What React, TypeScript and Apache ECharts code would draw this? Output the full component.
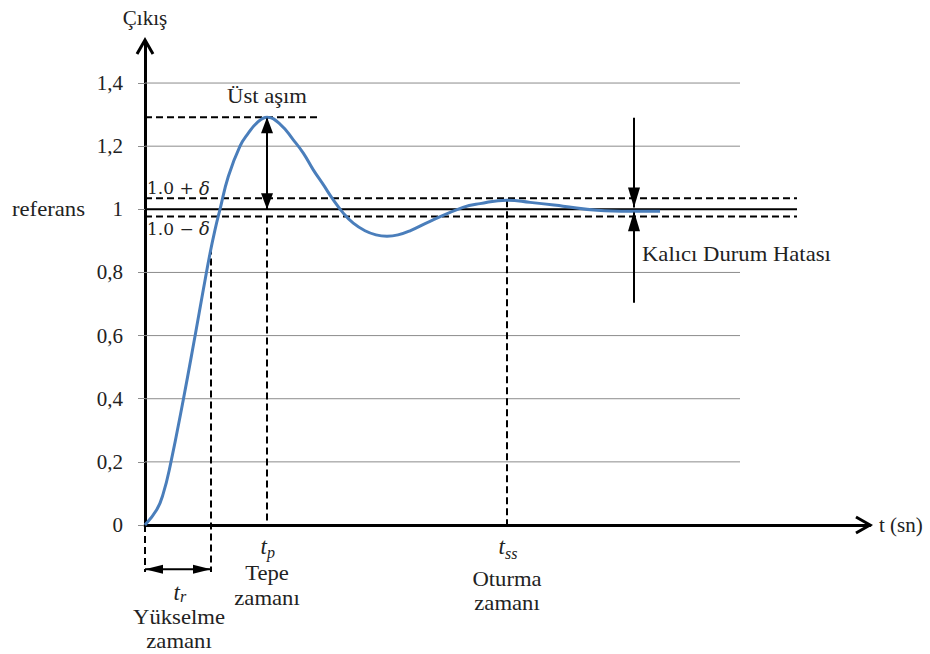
import React, { useEffect, useRef } from 'react';
import * as echarts from 'echarts';

// Step response samples (time in arbitrary units, output value)
const timeValues = [0, 0.234, 0.366, 0.5, 0.766, 1.0, 1.166, 1.3, 1.4, 1.5, 1.666, 1.9, 2.066, 2.234, 2.44, 2.7, 2.966, 3.166, 3.366, 3.566, 3.766, 3.966, 4.166, 4.4, 4.62, 4.84, 5.06, 5.3, 5.7, 6.36, 6.7, 7.24, 7.7, 8.36, 9.04, 9.7, 10.3];
const outputValues = [0, 0.048, 0.1, 0.185, 0.397, 0.598, 0.745, 0.86, 0.935, 1.0, 1.104, 1.2, 1.241, 1.273, 1.292, 1.27, 1.22, 1.178, 1.125, 1.078, 1.03, 0.988, 0.956, 0.932, 0.919, 0.915, 0.919, 0.932, 0.962, 1.006, 1.018, 1.029, 1.022, 1.01, 0.997, 0.994, 0.994];

const yTickValues = [0, 0.2, 0.4, 0.6, 0.8, 1, 1.2, 1.4];
const gridLineValues = [0.2, 0.4, 0.6, 0.8, 1, 1.2, 1.4];

const xMax = 14.5;
const yMax = 1.53;
const gridLineEnd = 11.9;
const referenceEnd = 13.04;

const referenceValue = 1.0;
const bandUpper = 1.035;
const bandLower = 0.977;

const peakTime = 2.44;
const peakValue = 1.292;
const overshootLineEnd = 3.46;

const riseTime = 1.32;
const riseMarkTop = 0.879;
const belowAxisValue = -0.149;
const riseArrowValue = -0.14;

const settlingTime = 7.24;
const settlingMarkTop = 1.029;

const errorArrowTime = 9.78;
const errorArrowTop = 1.29;
const errorArrowBottom = 0.704;
const errorArrowTipTop = 1.006;
const errorArrowTipBottom = 0.994;

const FONT = 'Liberation Serif';
const TEXT_COLOR = '#222';

export default function App() {
  const ref = useRef<HTMLDivElement>(null);

  useEffect(() => {
    const chart = echarts.init(ref.current!, null, { renderer: 'svg' });
    const fmt = (v: number) => String(+v.toFixed(1)).replace('.', ',');
    chart.setOption({
      animation: false,
      backgroundColor: '#fff',
      textStyle: { fontFamily: FONT },
      grid: { left: 145, right: 60, top: 42, bottom: 129, containLabel: false },
      xAxis: {
        type: 'value',
        min: 0,
        max: xMax,
        name: 't (sn)',
        nameLocation: 'end',
        nameGap: 9,
        nameTextStyle: { fontSize: 21, color: TEXT_COLOR, fontFamily: FONT },
        axisLine: { show: true, lineStyle: { color: '#000', width: 3 } },
        axisTick: { show: false },
        axisLabel: { show: false },
        splitLine: { show: false },
      },
      yAxis: {
        type: 'value',
        min: 0,
        max: yMax,
        name: 'Çıkış',
        nameLocation: 'end',
        nameGap: 14,
        nameTextStyle: { fontSize: 21, color: TEXT_COLOR, fontFamily: FONT, align: 'center' },
        axisLine: { show: true, onZero: false, lineStyle: { color: '#000', width: 3 } },
        axisTick: { show: true, length: 7, customValues: yTickValues, lineStyle: { color: '#8c8c8c', width: 1 } },
        axisLabel: {
          show: true,
          customValues: yTickValues,
          margin: 22,
          fontSize: 21,
          color: TEXT_COLOR,
          fontFamily: FONT,
          formatter: (v: number) => fmt(v),
        },
        splitLine: { show: false },
      },
      series: [
        {
          type: 'line',
          data: timeValues.map((t, i) => [t, outputValues[i]]),
          showSymbol: false,
          smooth: 0.45,
          z: 5,
          silent: true,
          lineStyle: { color: '#4a7ebb', width: 3 },
        },
      ],
    });

    const p = (x: number, y: number) => chart.convertToPixel({ gridIndex: 0 }, [x, y]) as number[];
    const g: any[] = [];

    const line = (a: number[], b: number[], opts: any = {}) => {
      g.push({
        type: 'line',
        silent: true,
        z: opts.z ?? 3,
        shape: { x1: a[0], y1: a[1], x2: b[0], y2: b[1] },
        style: { stroke: opts.color ?? '#000', lineWidth: opts.width ?? 2, lineDash: opts.dash ? [7, 4] : null },
      });
    };
    const head = (tip: number[], dir: number[], len: number, w: number) => {
      const bx = tip[0] - dir[0] * len;
      const by = tip[1] - dir[1] * len;
      const nx = -dir[1];
      const ny = dir[0];
      g.push({
        type: 'polygon',
        silent: true,
        z: 10,
        shape: { points: [[tip[0], tip[1]], [bx + (nx * w) / 2, by + (ny * w) / 2], [bx - (nx * w) / 2, by - (ny * w) / 2]] },
        style: { fill: '#000' },
      });
    };
    const text = (s: string, x: number, y: number, opts: any = {}) => {
      g.push({
        type: 'text',
        silent: true,
        z: 12,
        x,
        y,
        scaleX: opts.scaleX ?? 1.08,
        style: {
          text: s,
          fill: opts.color ?? TEXT_COLOR,
          fontSize: opts.size ?? 21,
          fontFamily: opts.family ?? FONT,
          fontStyle: opts.italic ? 'italic' : 'normal',
          align: opts.align ?? 'center',
          textAlign: opts.align ?? 'center',
          verticalAlign: 'middle',
          textVerticalAlign: 'middle',
          rich: opts.rich,
        },
      });
    };

    // gridlines
    gridLineValues.forEach((v) => line(p(0, v), p(gridLineEnd, v), { color: '#8c8c8c', width: 1, z: 1 }));

    // reference and tolerance band
    line(p(0, referenceValue), p(referenceEnd, referenceValue), { width: 2 });
    line(p(0, bandUpper), p(referenceEnd, bandUpper), { width: 2, dash: true });
    line(p(0, bandLower), p(referenceEnd, bandLower), { width: 2, dash: true });

    // overshoot
    line(p(0, peakValue), p(overshootLineEnd, peakValue), { width: 2, dash: true });
    line(p(peakTime, peakValue), p(peakTime, referenceValue), { width: 2 });
    head(p(peakTime, peakValue), [0, -1], 16, 12);
    head(p(peakTime, referenceValue), [0, 1], 16, 12);

    // verticals
    line(p(peakTime, bandLower), p(peakTime, 0), { width: 2, dash: true });
    line(p(settlingTime, settlingMarkTop), p(settlingTime, 0), { width: 2, dash: true });
    line(p(riseTime, riseMarkTop), p(riseTime, belowAxisValue), { width: 2, dash: true });
    line(p(0, 0), p(0, belowAxisValue), { width: 2, dash: true });

    // rise time arrow
    line(p(0, riseArrowValue), p(riseTime, riseArrowValue), { width: 2 });
    head(p(0, riseArrowValue), [-1, 0], 18, 9);
    head(p(riseTime, riseArrowValue), [1, 0], 18, 9);

    // steady-state error arrows
    line(p(errorArrowTime, errorArrowTop), p(errorArrowTime, errorArrowTipTop), { width: 2 });
    head(p(errorArrowTime, errorArrowTipTop), [0, 1], 20, 12);
    line(p(errorArrowTime, errorArrowBottom), p(errorArrowTime, errorArrowTipBottom), { width: 2 });
    head(p(errorArrowTime, errorArrowTipBottom), [0, -1], 20, 12);

    // axis chevrons
    const yTop = p(0, yMax);
    g.push({
      type: 'polyline', silent: true, z: 10,
      shape: { points: [[yTop[0] - 8, yTop[1] + 12], [yTop[0], yTop[1] - 2], [yTop[0] + 8, yTop[1] + 12]] },
      style: { stroke: '#000', lineWidth: 3, fill: null },
    });
    const xEnd = p(xMax, 0);
    g.push({
      type: 'polyline', silent: true, z: 10,
      shape: { points: [[xEnd[0] - 14, xEnd[1] - 8], [xEnd[0], xEnd[1]], [xEnd[0] - 14, xEnd[1] + 8]] },
      style: { stroke: '#000', lineWidth: 3, fill: null },
    });

    // texts
    const peakPx = p(peakTime, peakValue);
    text('Üst aşım', peakPx[0], peakPx[1] - 21);
    const up = p(0, bandUpper);
    const lo = p(0, bandLower);
    const mathRich = {
      n: { fontFamily: 'DejaVu Serif', fontSize: 17, fill: TEXT_COLOR, color: TEXT_COLOR },
      d: { fontFamily: 'DejaVu Serif', fontSize: 18, fontStyle: 'italic', fill: TEXT_COLOR, color: TEXT_COLOR },
    };
    text('{n|1.0 + }{d|δ}', up[0] + 2, up[1] - 10, { align: 'left', family: 'DejaVu Serif', size: 17, rich: mathRich, scaleX: 1 });
    text('{n|1.0 − }{d|δ}', lo[0] + 2, lo[1] + 12, { align: 'left', family: 'DejaVu Serif', size: 17, rich: mathRich, scaleX: 1 });
    const refPx = p(0, referenceValue);
    text('referans', 12, refPx[1], { align: 'left' });
    const errPx = p(errorArrowTime, 0.85);
    text('Kalıcı Durum Hatası', errPx[0] + 8, errPx[1] - 2, { align: 'left' });

    const axisY = p(0, 0)[1];
    const tx = p(peakTime, 0)[0];
    text('t', tx, axisY + 21, { align: 'right', italic: true, size: 23, scaleX: 1 });
    text('p', tx, axisY + 27, { align: 'left', italic: true, size: 16, scaleX: 1 });
    text('Tepe', tx, axisY + 48);
    text('zamanı', tx, axisY + 73);

    const sx = p(settlingTime, 0)[0];
    text('t', sx - 2, axisY + 21, { align: 'right', italic: true, size: 23, scaleX: 1 });
    text('ss', sx - 2, axisY + 28, { align: 'left', italic: true, size: 16, scaleX: 1 });
    text('Oturma', sx, axisY + 54);
    text('zamanı', sx, axisY + 78);

    const rx = (p(0, 0)[0] + p(riseTime, 0)[0]) / 2;
    text('t', rx + 2, axisY + 67, { align: 'right', italic: true, size: 23, scaleX: 1 });
    text('r', rx + 2, axisY + 71, { align: 'left', italic: true, size: 16, scaleX: 1 });
    text('Yükselme', rx + 1, axisY + 92);
    text('zamanı', rx + 1, axisY + 116);

    chart.setOption({ graphic: g });
    return () => chart.dispose();
  }, []);

  return <div ref={ref} style={{ position: 'fixed', left: 0, top: 0, width: 930, height: 654, background: '#fff' }} />;
}
